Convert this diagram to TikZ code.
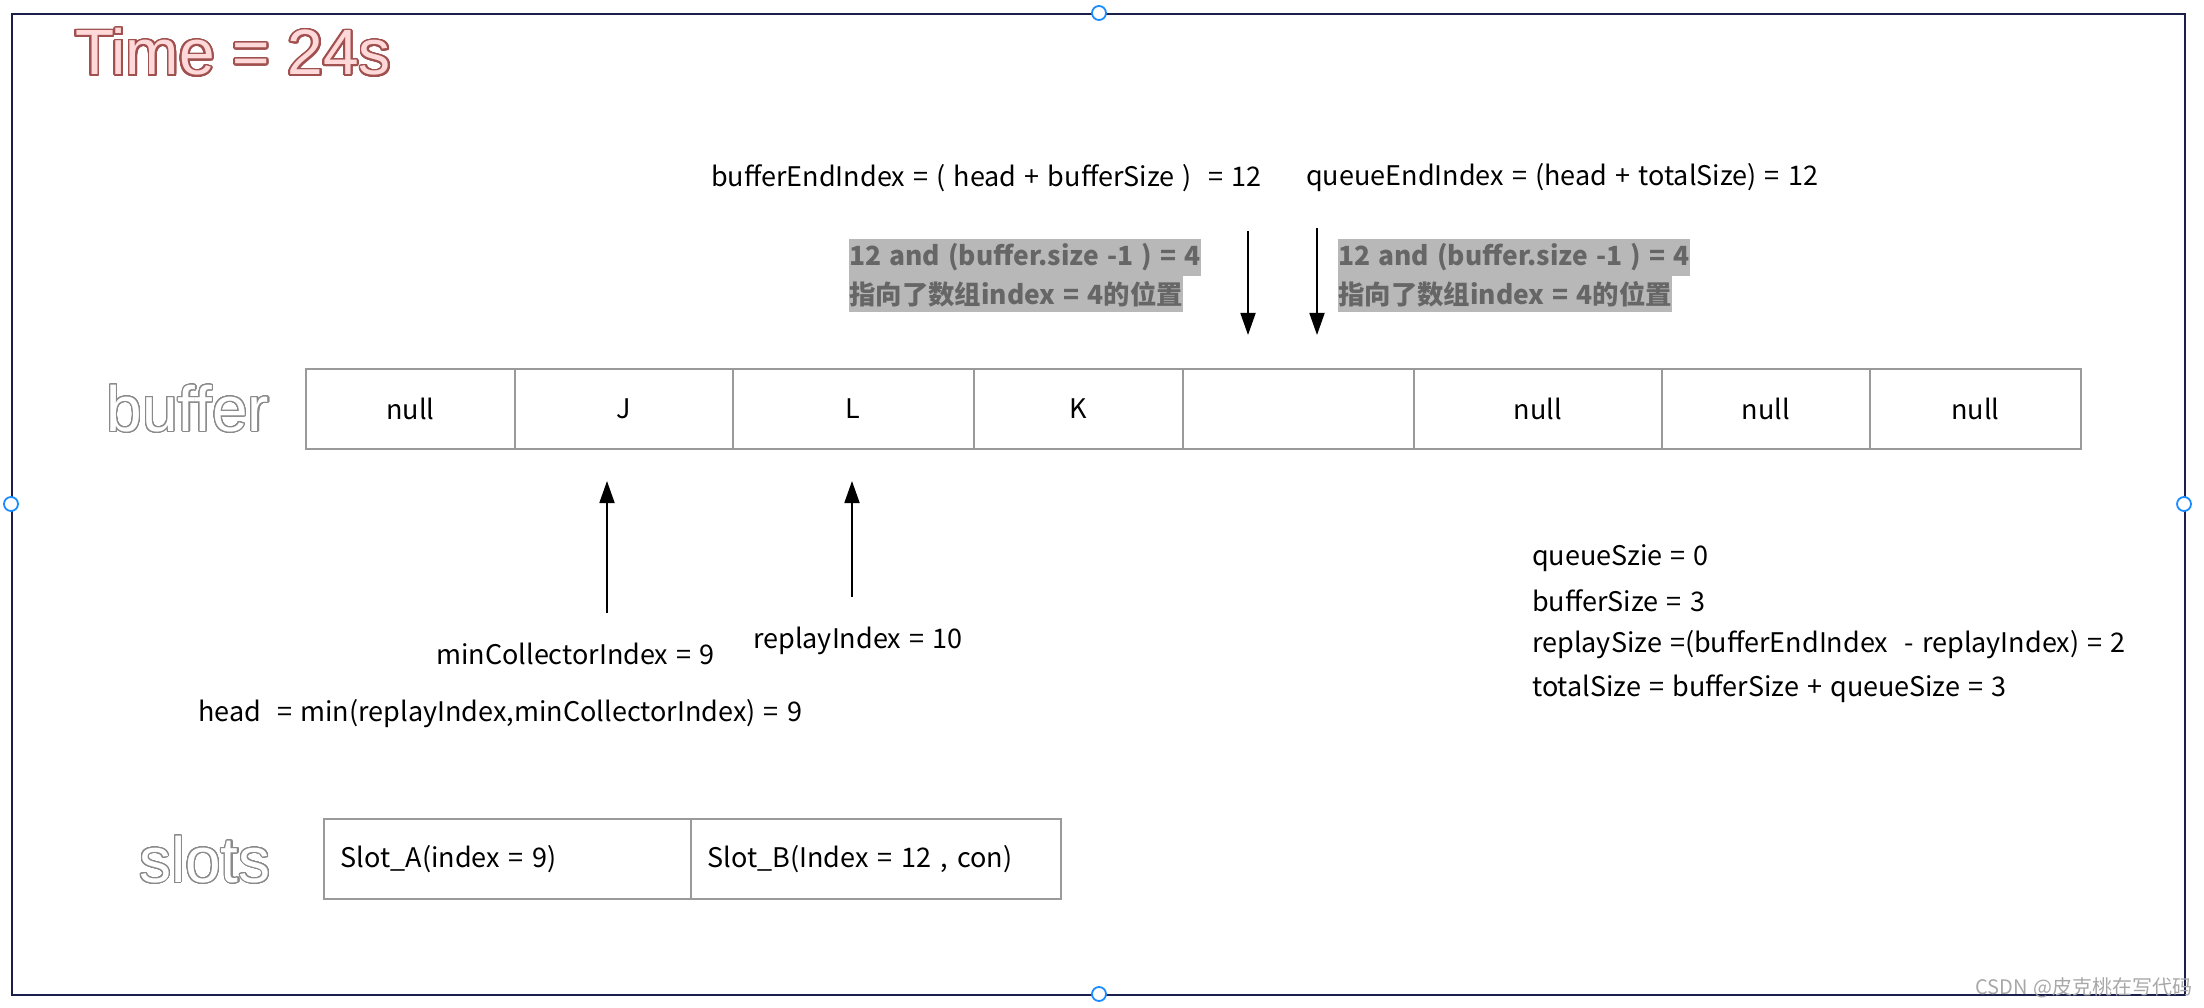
\documentclass[tikz,border=0pt]{standalone}
\usepackage{fontspec}
\setmainfont{Noto Sans CJK SC}[WordSpace=1.35]
\newfontfamily\arialf{Liberation Sans}
\usepackage[copies]{contour}
\usetikzlibrary{arrows.meta}
\definecolor{framec}{HTML}{1B1F4B}
\definecolor{handlec}{HTML}{1A8CFF}
\definecolor{cellline}{HTML}{9A9A9A}
\definecolor{hlbg}{HTML}{B8B8B8}
\definecolor{hltext}{HTML}{666666}
\definecolor{timefill}{HTML}{FFD9D9}
\definecolor{timeline}{HTML}{A0504E}
\definecolor{outlinegray}{HTML}{8A8A8A}
\definecolor{wmc}{HTML}{A8A8A8}
\contournumber{32}
\begin{document}
\begin{tikzpicture}[x=1pt,y=-1pt,
  txt/.style={font=\fontsize{27}{31}\selectfont, inner sep=0pt, anchor=west},
  cell/.style={draw=cellline, line width=1.5pt, minimum height=80pt, inner sep=0pt, anchor=north west, font=\fontsize{27}{31}\selectfont},
  slotcell/.style={cell, inner xsep=17pt, align=left},
  hl/.style={fill=hlbg, text=hltext, font=\fontsize{26.4}{30}\selectfont\bfseries, inner xsep=0pt, inner ysep=0pt, minimum height=37pt, anchor=west},
  ptr/.style={line width=1.8pt, -{Triangle[width=15pt,length=22pt]}},
  handle/.style={circle, draw=handlec, fill=white, line width=1.8pt, minimum size=14pt, inner sep=0pt},
  bigword/.style={font=\arialf\fontsize{64}{70}\selectfont, inner sep=0pt}
]
\useasboundingbox (0,0) rectangle (2204,1008);
\fill[white] (0,0) rectangle (2204,1008);
% frame
\node[draw=framec, line width=2pt, minimum width=2173pt, minimum height=981pt, inner sep=0pt, anchor=north west] (frame) at (11,13) {};

% title and labels
\node[bigword] (time) at (233,53) {\contourlength{1.8pt}\contour{timeline}{\textcolor{timefill}{Time = 24s}}};
\node[bigword] (bufl) at (188,409) {\contourlength{1.1pt}\contour{outlinegray}{\textcolor{white}{buffer}}};
\node[bigword] (slotl) at (205,860) {\contourlength{1.1pt}\contour{outlinegray}{\textcolor{white}{slots}}};

% buffer cells
\node[cell, minimum width=209pt] (c1) at (305,368) {null};
\node[cell, minimum width=218pt] (c2) at (514,368) {J};
\node[cell, minimum width=241pt] (c3) at (732,368) {L};
\node[cell, minimum width=209pt] (c4) at (973,368) {K};
\node[cell, minimum width=231pt] (c5) at (1182,368) {};
\node[cell, minimum width=248pt] (c6) at (1413,368) {null};
\node[cell, minimum width=208pt] (c7) at (1661,368) {null};
\node[cell, minimum width=211pt] (c8) at (1869,368) {null};

% slots
\node[slotcell, text width=333pt] (s1) at (323,818) {Slot\_A(index = 9)};
\node[slotcell, text width=336pt] (s2) at (690,818) {Slot\_B(Index = 12 , con)};

% top formulas
\node[txt] (bei) at (711,178) {bufferEndIndex = ( head + bufferSize )~~= 12};
\node[txt] (qei) at (1306,178) {queueEndIndex = (head + totalSize) = 12};

% highlighted notes
\node[hl] (n1a) at (849,257.5) {12 and (buffer.size -1 ) = 4};
\node[hl] (n1b) at (849,294) {指向了数组index = 4的位置};
\node[hl] (n2a) at (1338,257.5) {12 and (buffer.size -1 ) = 4};
\node[hl] (n2b) at (1338,294) {指向了数组index = 4的位置};

% down arrows
\coordinate (d1s) at (1248,231);
\coordinate (d1e) at (1248,335);
\coordinate (d2s) at (1317,228);
\coordinate (d2e) at (1317,335);
\draw[ptr] (d1s) -- (d1e);
\draw[ptr] (d2s) -- (d2e);

% up arrows
\coordinate (u1s) at (607,613);
\coordinate (u1e) at (607,481);
\coordinate (u2s) at (852,597);
\coordinate (u2e) at (852,481);
\draw[ptr] (u1s) -- (u1e);
\draw[ptr] (u2s) -- (u2e);

% bottom labels
\node[txt] (mci) at (436,654) {minCollectorIndex = 9};
\node[txt] (rpi) at (753,641) {replayIndex = 10};
\node[txt] (head) at (198,714) {head~~= min(replayIndex,minCollectorIndex) = 9};

% right block
\node[txt] (r1) at (1532,558) {queueSzie = 0};
\node[txt] (r2) at (1532,601) {bufferSize = 3};
\node[txt] (r3) at (1532,645) {replaySize =(bufferEndIndex~~- replayIndex) = 2};
\node[txt] (r4) at (1532,689) {totalSize = bufferSize + queueSize = 3};

% watermark
\node[font=\fontsize{20}{24}\selectfont, text=wmc, inner sep=0pt, anchor=east] (wm) at (2193,988) {CSDN @皮克桃在写代码};

% handles
\node[handle] (h1) at (1099,13) {};
\node[handle] (h2) at (11,504) {};
\node[handle] (h3) at (2184,504) {};
\node[handle] (h4) at (1099,994) {};
\end{tikzpicture}
\end{document}
